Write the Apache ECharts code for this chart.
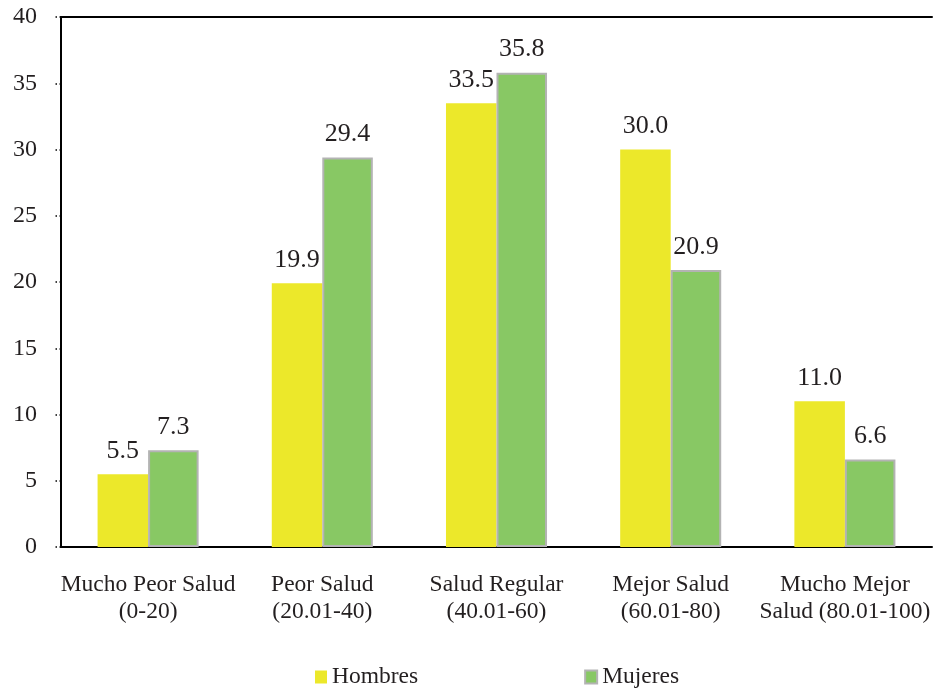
<!DOCTYPE html>
<html>
<head>
<meta charset="utf-8">
<script src="https://cdn.jsdelivr.net/npm/echarts@6/dist/echarts.min.js"></script>
<style>
  html, body { margin: 0; padding: 0; background: #fff; }
  #chart { width: 933px; height: 690px; }
</style>
</head>
<body>
<div id="chart"></div>
<script>
// Health-status groups and the share of men / women in each
const categories = [
  'Mucho Peor Salud\n(0-20)',
  'Peor Salud\n(20.01-40)',
  'Salud Regular\n(40.01-60)',
  'Mejor Salud\n(60.01-80)',
  'Mucho Mejor\nSalud (80.01-100)'
];
const hombres = [5.5, 19.9, 33.5, 30.0, 11.0];
const mujeres = [7.3, 29.4, 35.8, 20.9, 6.6];
const seriesNames = ['Hombres', 'Mujeres'];

const FONT = '"Liberation Serif", "Times New Roman", serif';
const TEXT = '#231f20';

const valueLabel = {
  show: true,
  position: 'top',
  distance: 10,
  fontFamily: FONT,
  fontSize: 26,
  color: TEXT,
  formatter: p => p.value.toFixed(1)
};

const chart = echarts.init(document.getElementById('chart'));
chart.setOption({
  animation: false,
  backgroundColor: '#fff',
  textStyle: { fontFamily: FONT, color: TEXT },
  grid: { left: 61, right: -3, top: 17, bottom: 143 },
  legend: {
    left: 310, bottom: -4,
    itemGap: 166,
    itemWidth: 12, itemHeight: 13,
    textStyle: { fontFamily: FONT, fontSize: 23.5, color: TEXT },
    data: [
      { name: seriesNames[0], icon: 'rect' },
      { name: seriesNames[1], icon: 'rect' }
    ]
  },
  xAxis: [
    {
      type: 'category',
      data: categories,
      axisLine: { lineStyle: { color: '#000', width: 2 } },
      axisTick: { show: false },
      axisLabel: {
        interval: 0,
        margin: 24,
        fontFamily: FONT,
        fontSize: 23.5,
        lineHeight: 27,
        color: TEXT
      }
    },
    {
      // frame line along the top of the plot
      type: 'category',
      position: 'top',
      data: categories,
      axisLine: { lineStyle: { color: '#000', width: 2 } },
      axisTick: { show: false },
      axisLabel: { show: false }
    }
  ],
  yAxis: {
    type: 'value',
    min: 0, max: 40, interval: 5,
    splitLine: { show: false },
    axisLine: { show: true, lineStyle: { color: '#000', width: 2 } },
    axisTick: {
      show: true, length: 8,
      lineStyle: { color: '#000', type: [1.5, 2.5], width: 1.5 }
    },
    axisLabel: {
      margin: 24,
      fontFamily: FONT,
      fontSize: 24,
      color: TEXT
    }
  },
  series: [
    {
      name: seriesNames[0],
      type: 'bar',
      data: hombres,
      barGap: '0%',
      barCategoryGap: '42%',
      itemStyle: { color: '#ece82a' },
      label: valueLabel
    },
    {
      name: seriesNames[1],
      type: 'bar',
      data: mujeres,
      itemStyle: { color: '#88c864', borderColor: '#b3b3b3', borderWidth: 2 },
      label: valueLabel
    }
  ]
});
</script>
</body>
</html>
